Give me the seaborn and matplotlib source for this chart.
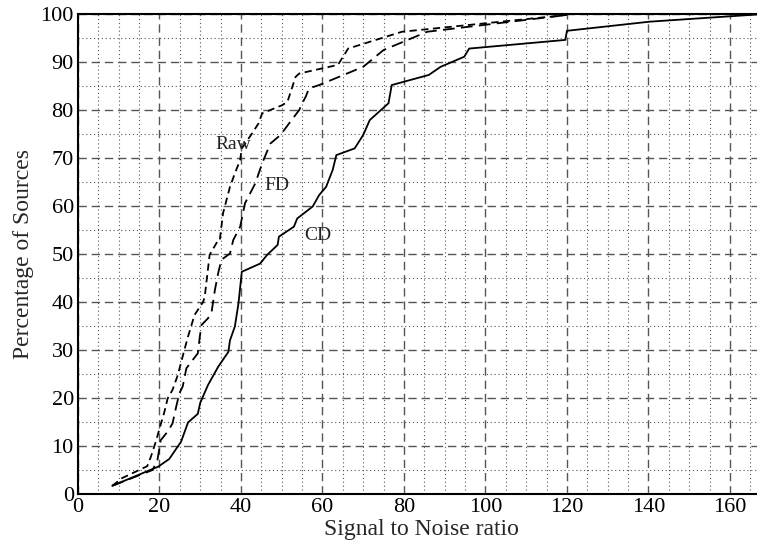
import matplotlib
matplotlib.use("Agg")
import matplotlib.pyplot as plt
import seaborn as sns
import pandas as pd
from matplotlib.ticker import MultipleLocator

# ---- data ----
cd_x = [8.4, 19.7, 22.4, 25.3, 27.0, 29.4, 30.0, 31.9, 34.4, 36.9, 37.3, 38.5, 39.4, 40.2,
        44.7, 46.4, 49.0, 49.3, 53.0, 53.8, 57.6, 59.2, 60.9, 62.5, 63.4, 67.9, 70.0, 71.6,
        76.2, 77.0, 86.1, 89.0, 94.8, 96.0, 119.6, 120.0, 140.3, 168.4]
cd_y = [1.7, 5.7, 7.3, 10.9, 14.9, 16.7, 19.0, 22.7, 26.5, 29.6, 32.0, 34.9, 39.8, 46.3,
        48.0, 49.8, 51.9, 53.6, 55.7, 57.4, 59.9, 62.3, 64.0, 67.5, 70.6, 72.0, 74.8, 77.9,
        81.4, 85.2, 87.3, 89.0, 91.1, 92.8, 94.6, 96.5, 98.4, 100.0]

raw_x = [8.4, 10.8, 17.0, 17.9, 19.1, 19.9, 21.2, 22.0, 23.2, 24.5, 26.1, 27.0, 28.6, 30.7,
         31.1, 32.3, 34.4, 34.8, 35.6, 37.3, 38.5, 39.8, 40.2, 42.7, 44.3, 45.2, 50.1, 51.4,
         53.4, 54.3, 63.8, 66.3, 79.5, 120.0]
raw_y = [1.7, 3.3, 5.8, 7.8, 10.9, 13.3, 17.1, 19.9, 21.7, 24.8, 30.0, 32.8, 37.3, 40.0,
         41.1, 49.8, 52.9, 52.9, 58.5, 64.0, 66.8, 69.6, 72.0, 75.1, 77.2, 79.3, 81.0, 81.7,
         86.9, 87.6, 89.4, 92.8, 96.3, 99.8]

fd_x = [8.4, 18.3, 19.5, 20.3, 22.0, 23.2, 24.1, 24.9, 25.7, 26.6, 29.4, 29.9, 30.3, 31.9,
        32.8, 33.6, 34.4, 35.2, 37.3, 38.1, 39.8, 41.0, 43.5, 45.2, 47.2, 49.7, 51.8, 54.3,
        55.1, 55.9, 56.7, 59.2, 70.0, 75.0, 85.7, 120.0]
fd_y = [1.7, 5.0, 7.1, 11.2, 13.0, 14.7, 18.2, 21.0, 22.4, 26.2, 29.3, 32.8, 35.2, 36.6,
        38.0, 42.5, 46.0, 48.8, 50.1, 52.9, 55.7, 60.6, 64.7, 68.9, 73.0, 74.8, 77.2, 80.0,
        81.5, 82.8, 84.5, 85.2, 89.0, 92.5, 96.3, 99.8]

series_names = ["Raw", "FD", "CD"]
label_pos = {"Raw": (38.2, 72.9), "FD": (48.9, 64.2), "CD": (58.8, 53.8)}

x_label = "Signal to Noise ratio"
y_label = "Percentage of Sources"

# ---- style ----
sns.set_style("white")
plt.rcParams["font.family"] = ["Liberation Serif", "DejaVu Serif"]

fig = plt.figure(figsize=(7.57, 5.48), dpi=100)
ax = fig.add_axes([78 / 757, 1 - 494 / 548, 1 - 78 / 757 + 0.01, (494 - 14) / 548])

styles = {
    "Raw": (0, (4.0, 2.5)),
    "FD": (0, (6.5, 3.5)),
    "CD": "-",
}
data = {"Raw": (raw_x, raw_y), "FD": (fd_x, fd_y), "CD": (cd_x, cd_y)}

for name in series_names:
    xs, ys = data[name]
    df = pd.DataFrame({"x": xs, "y": ys})
    sns.lineplot(data=df, x="x", y="y", ax=ax, sort=False, estimator=None,
                 color="black", linewidth=1.3, linestyle=styles[name])

for name in series_names:
    tx, ty = label_pos[name]
    ax.text(tx, ty, name, fontsize=14, ha="center", va="center", color="#222222")

ax.set_xlim(0, 168.5)
ax.set_ylim(0, 100)
ax.xaxis.set_major_locator(MultipleLocator(20))
ax.xaxis.set_minor_locator(MultipleLocator(5))
ax.yaxis.set_major_locator(MultipleLocator(10))
ax.yaxis.set_minor_locator(MultipleLocator(5))

ax.grid(True, which="major", linestyle=(0, (6, 3.5)), color="#555555", linewidth=1.0)
ax.grid(True, which="minor", linestyle=(0, (1, 2.5)), color="#555555", linewidth=0.8)
ax.set_axisbelow(True)

ax.tick_params(axis="both", which="major", direction="in", length=5, width=1,
               labelsize=16, pad=3, colors="black")
ax.tick_params(axis="both", which="minor", direction="in", length=0)

for side in ["left", "bottom", "top"]:
    ax.spines[side].set_color("black")
    ax.spines[side].set_linewidth(1.5)
ax.spines["right"].set_visible(False)

ax.set_xlabel(x_label, fontsize=17, labelpad=1)
ax.set_ylabel(y_label, fontsize=17, labelpad=5)

fig.savefig("out.png", dpi=100)
